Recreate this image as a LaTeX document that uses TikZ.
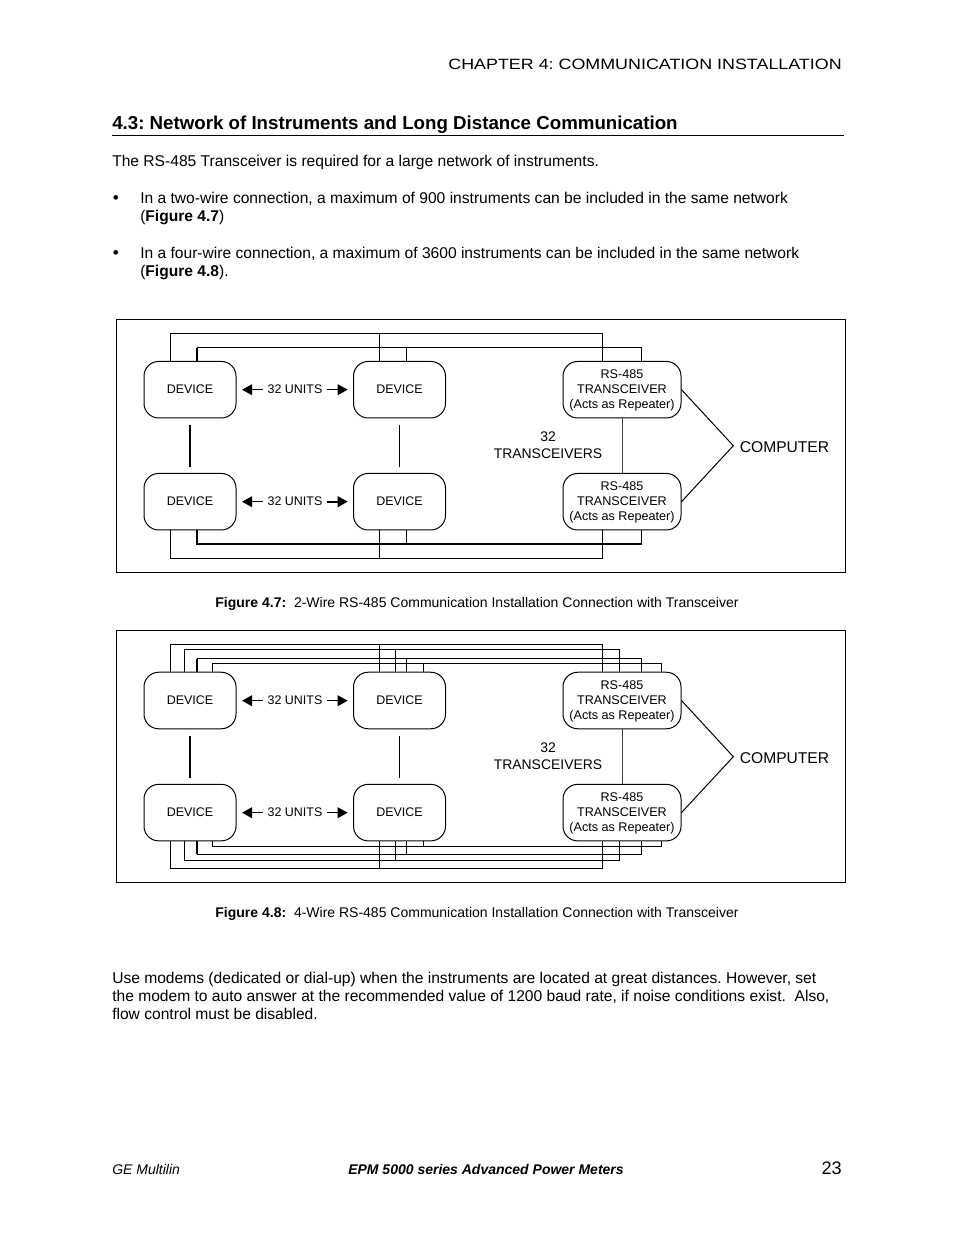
\documentclass[tikz,border=0pt]{standalone}
\usepackage{fontspec}
\setmainfont{Liberation Sans}
\usetikzlibrary{arrows.meta}
\newcommand\strutup{\rule{0pt}{8pt}}
\tikzset{
  x=0.75pt, y=-0.75pt,
  frame/.style={draw=black, line width=0.6pt},
  bus/.style={draw=black, line width=0.75pt, line join=miter},
  busthick/.style={draw=black, line width=1.5pt},
  unitbox/.style={draw=black, line width=0.75pt, rounded corners=11pt, minimum width=69pt, minimum height=42.4pt, inner sep=0pt, font=\fontsize{9.35}{11}\selectfont, align=center},
  xcvrbox/.style={draw=black, line width=0.75pt, rounded corners=11pt, minimum width=88.5pt, minimum height=42.4pt, inner sep=0pt, font=\fontsize{9.45}{11.25}\selectfont, align=center},
  unitlabel/.style={font=\fontsize{9.35}{11}\selectfont, inner sep=0pt},
  biglabel/.style={font=\fontsize{11.7}{12.9}\selectfont, align=center, inner sep=0pt},
  countlabel/.style={font=\fontsize{10.45}{12.9}\selectfont, align=center, inner sep=0pt},
  body/.style={font=\fontsize{11.7}{13}\selectfont, anchor=base west, inner sep=0pt},
  caption/.style={font=\fontsize{10.5}{12}\selectfont, anchor=base, inner sep=0pt},
  arrowline/.style={draw=black, line width=1pt, -{Triangle[length=7.5pt,width=8pt]}},
  link/.style={draw=black, line width=0.75pt},
  linkthick/.style={draw=black, line width=1.5pt},
  greylink/.style={draw=black!75, line width=0.75pt},
}
\begin{document}
\frenchspacing
\begin{tikzpicture}
\useasboundingbox (0,0) rectangle (954,1235);
\fill[white] (0,0) rectangle (954,1235);

% page text
\node[anchor=base east, inner sep=0pt, font=\fontsize{11.2}{13}\selectfont, xscale=1.197, transform shape] (hdr) at (842,69.8) {CHAPTER 4: COMMUNICATION INSTALLATION};
\node[body, font=\fontsize{14.03}{16}\selectfont\bfseries] (h1) at (112,129) {4.3: Network of Instruments and Long Distance Communication};
\coordinate (ruleL) at (112,135.5);
\coordinate (ruleR) at (844,135.5);
\draw[line width=0.75pt] (ruleL) -- (ruleR);
\node[body] (p1) at (112,166) {The RS-485 Transceiver is required for a large network of instruments.};
\node[body] (b1) at (140,203) {In a two-wire connection, a maximum of 900 instruments can be included in the same network};
\node[body] (b1b) at (140,221) {(\textbf{Figure 4.7})};
\node[body] (b2) at (140,258) {In a four-wire connection, a maximum of 3600 instruments can be included in the same network};
\node[body] (b2b) at (140,276) {(\textbf{Figure 4.8}).};
\node[body, font=\fontsize{12.8}{14}\selectfont] (d1) at (112.5,203) {•};
\node[body, font=\fontsize{12.8}{14}\selectfont] (d2) at (112.5,258) {•};

\node[caption] (c1) at (477,607) {\textbf{Figure 4.7:}\ \ 2-Wire RS-485 Communication Installation Connection with Transceiver};
\node[caption] (c2) at (477,917) {\textbf{Figure 4.8:}\ \ 4-Wire RS-485 Communication Installation Connection with Transceiver};

\node[body] (e1) at (112,983) {Use modems (dedicated or dial-up) when the instruments are located at great distances. However, set};
\node[body] (e2) at (112,1001) {the modem to auto answer at the recommended value of 1200 baud rate, if noise conditions exist.\ \ Also,};
\node[body] (e3) at (112,1019) {flow control must be disabled.};

\node[body, font=\fontsize{10.5}{12}\selectfont\itshape] (f1) at (112,1174) {GE Multilin};
\node[caption, font=\fontsize{10.5}{12}\selectfont\bfseries\itshape] (f2) at (486,1174) {EPM 5000 series Advanced Power Meters};
\node[anchor=base east, inner sep=0pt, font=\fontsize{13.6}{14}\selectfont] (f3) at (842,1174) {23};

% ---------- Figure 4.7
\draw[frame] (116.5,319.5) rectangle (845.5,572.5);
\node[unitbox] (A1) at (190,389.7) {DEVICE};
\node[unitbox] (A2) at (399.5,389.7) {DEVICE};
\node[unitbox] (A3) at (190,501.7) {DEVICE};
\node[unitbox] (A4) at (399.5,501.7) {DEVICE};
\node[xcvrbox] (AT1) at (622,389.7) {\strutup RS-485\\TRANSCEIVER\\(Acts as Repeater)};
\node[xcvrbox] (AT2) at (622,501.7) {\strutup RS-485\\TRANSCEIVER\\(Acts as Repeater)};
\coordinate (Aa) at (170.5,333.5);
\coordinate (Ab) at (602.5,333.5);
\coordinate (Ac) at (197,347.5);
\coordinate (Ad) at (641.7,347.5);
\coordinate (Ae) at (197,543.7);
\coordinate (Af) at (641.7,543.7);
\coordinate (Ag) at (170.5,558);
\coordinate (Ah) at (602.5,558);
\coordinate (Ax) at (379.5,0);
\coordinate (Ay) at (406,0);
% top
\draw[bus] (A1.north -| Aa) -- (Aa) -- (Ab) -- (AT1.north -| Ab);
\draw[bus] (Ac) -- (Ad) -- (AT1.north -| Ad);
\draw[busthick] (A1.north -| Ac) -- ([yshift=-0.375pt]Ac);
\draw[bus] (Aa -| Ax) -- (A2.north -| Ax);
\draw[bus] (Ac -| Ay) -- (A2.north -| Ay);
% bottom
\draw[bus] (A3.south -| Ag) -- (Ag) -- (Ah) -- (AT2.south -| Ah);
\draw[bus] (Af) -- (AT2.south -| Af);
\draw[busthick] (A3.south -| Ae) -- (Ae) -- (Af);
\draw[bus] (Ag -| Ax) -- (A4.south -| Ax);
\draw[bus] (Ae -| Ay) -- (A4.south -| Ay);
% verticals
\coordinate (Av1) at (190,424.7); \coordinate (Av2) at (190,466.7);
\coordinate (Av3) at (399.5,424.7); \coordinate (Av4) at (399.5,466.7);
\draw[linkthick] (Av1) -- (Av2);
\draw[link] (Av3) -- (Av4);
\draw[greylink] (AT1) -- (AT2);
% unit labels
\node[unitlabel] (AL1) at (295,389) {32 UNITS};
\node[unitlabel] (AL2) at (295,501) {32 UNITS};
\coordinate (Ap1) at (242,389.7); \coordinate (Ap2) at (347.7,389.7);
\coordinate (Ap3) at (242,501.7); \coordinate (Ap4) at (347.7,501.7);
\draw[arrowline] (AL1.west |- Ap1) ++(-4,0) -- (Ap1);
\draw[arrowline] (AL1.east |- Ap2) ++(4,0) -- (Ap2);
\draw[arrowline] (AL2.west |- Ap3) ++(-4,0) -- (Ap3);
\draw[arrowline, line width=1.4pt] (AL2.east |- Ap4) ++(4,0) -- (Ap4);
% computer
\node[biglabel] (AC) at (784.5,447) {COMPUTER};
\node[countlabel] (AN) at (548,445) {32\\TRANSCEIVERS};
\coordinate (Aj) at (733.3,445.7);
\draw[link] (AT1.east) -- (Aj) -- (AT2.east);

% ---------- Figure 4.8
\draw[frame] (116.5,630.5) rectangle (845.5,882.5);
\node[unitbox] (B1) at (190,700.5) {DEVICE};
\node[unitbox] (B2) at (399.5,700.5) {DEVICE};
\node[unitbox] (B3) at (190,812.6) {DEVICE};
\node[unitbox] (B4) at (399.5,812.6) {DEVICE};
\node[xcvrbox] (BT1) at (622,700.5) {\strutup RS-485\\TRANSCEIVER\\(Acts as Repeater)};
\node[xcvrbox] (BT2) at (622,812.6) {\strutup RS-485\\TRANSCEIVER\\(Acts as Repeater)};
\coordinate (Bx1) at (170.5,644.3); \coordinate (Bz1) at (602.5,644.3);
\coordinate (Bx2) at (184.3,649);   \coordinate (Bz2) at (619.3,649);
\coordinate (Bx3) at (197,658.3);   \coordinate (Bz3) at (641.7,658.3);
\coordinate (Bx4) at (212.7,663.3); \coordinate (Bz4) at (661.7,663.3);
\coordinate (Bu1) at (170.5,868.3); \coordinate (Bw1) at (602.5,868.3);
\coordinate (Bu2) at (184.3,860);   \coordinate (Bw2) at (619.3,860);
\coordinate (Bu3) at (197,854.3);   \coordinate (Bw3) at (641.7,854.3);
\coordinate (Bu4) at (212.7,846);   \coordinate (Bw4) at (661.7,846);
\coordinate (Bd1) at (379.5,0); \coordinate (Bd2) at (395.3,0);
\coordinate (Bd3) at (406,0);   \coordinate (Bd4) at (423.3,0);
\foreach \i in {1,2,3,4}{
  \draw[bus] (B1.north -| Bx\i) -- (Bx\i) -- (Bz\i) -- (BT1.north -| Bz\i);
  \draw[bus] (Bx\i -| Bd\i) -- (B2.north -| Bd\i);
  \draw[bus] (B3.south -| Bu\i) -- (Bu\i) -- (Bw\i) -- (BT2.south -| Bw\i);
  \draw[bus] (Bu\i -| Bd\i) -- (B4.south -| Bd\i);
}
\draw[busthick] (B1.north -| Bx3) -- ([yshift=-0.375pt]Bx3);
\draw[busthick] (B3.south -| Bu3) -- ([yshift=0.375pt]Bu3);
\coordinate (Bv1) at (190,735.5); \coordinate (Bv2) at (190,777.5);
\coordinate (Bv3) at (399.5,735.5); \coordinate (Bv4) at (399.5,777.5);
\draw[linkthick] (Bv1) -- (Bv2);
\draw[link] (Bv3) -- (Bv4);
\draw[greylink] (BT1) -- (BT2);
\node[unitlabel] (BL1) at (295,700) {32 UNITS};
\node[unitlabel] (BL2) at (295,812) {32 UNITS};
\coordinate (Bp1) at (242,700.7); \coordinate (Bp2) at (347.7,700.7);
\coordinate (Bp3) at (242,812.7); \coordinate (Bp4) at (347.7,812.7);
\draw[arrowline] (BL1.west |- Bp1) ++(-4,0) -- (Bp1);
\draw[arrowline] (BL1.east |- Bp2) ++(4,0) -- (Bp2);
\draw[arrowline] (BL2.west |- Bp3) ++(-4,0) -- (Bp3);
\draw[arrowline] (BL2.east |- Bp4) ++(4,0) -- (Bp4);
\node[biglabel] (BC) at (784.5,758) {COMPUTER};
\node[countlabel] (BN) at (548,756) {32\\TRANSCEIVERS};
\coordinate (Bj) at (733.3,756.7);
\draw[link] (BT1.east) -- (Bj) -- (BT2.east);
\end{tikzpicture}
\end{document}
